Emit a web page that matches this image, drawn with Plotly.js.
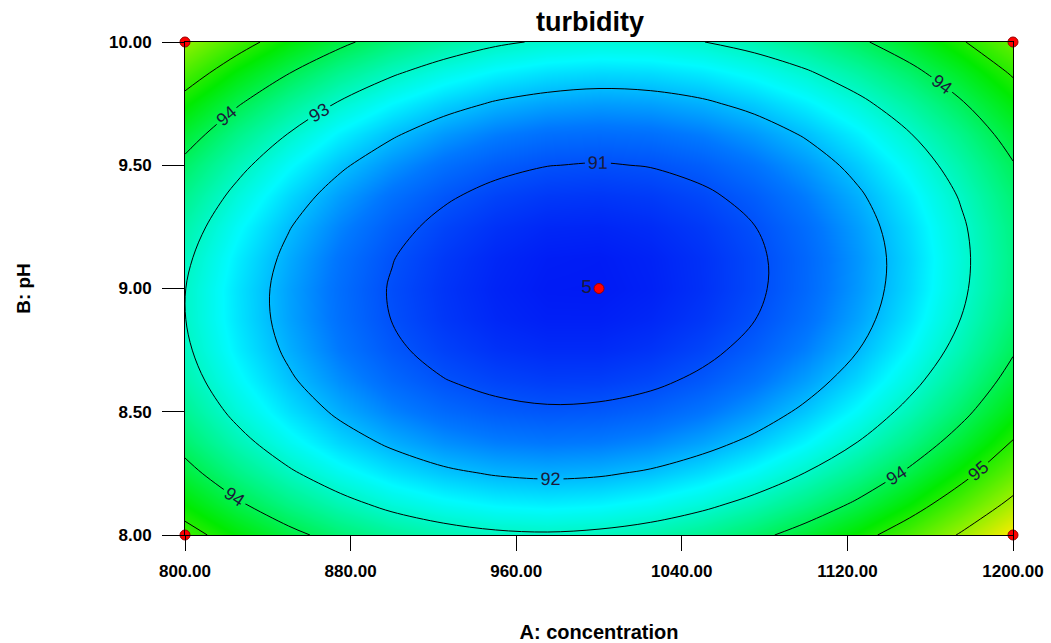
<!DOCTYPE html>
<html>
<head>
<meta charset="utf-8">
<script src="https://cdn.plot.ly/plotly-3.0.1.min.js"></script>
<style>html,body{margin:0;padding:0;background:#fff;}#chart{width:1051px;height:643px;}</style>
</head>
<body>
<div id="chart"></div>
<script>
// A: concentration grid (x)
const concentration = [800, 825, 850, 875, 900, 925, 950, 975, 1000, 1025, 1050, 1075, 1100, 1125, 1150, 1175, 1200];
// B: pH grid (y)
const pH = [8.000, 8.125, 8.250, 8.375, 8.500, 8.625, 8.750, 8.875, 9.000, 9.125, 9.250, 9.375, 9.500, 9.625, 9.750, 9.875, 10.000];
// turbidity estimated from the contour picture; rows follow pH, columns follow concentration
const turbidity = [
  [95.25, 94.67, 94.17, 93.76, 93.45, 93.23, 93.10, 93.06, 93.12, 93.26, 93.50, 93.83, 94.26, 94.77, 95.37, 96.07, 96.86],
  [94.69, 94.09, 93.59, 93.18, 92.85, 92.63, 92.49, 92.44, 92.49, 92.63, 92.86, 93.18, 93.60, 94.10, 94.70, 95.39, 96.17],
  [94.20, 93.60, 93.09, 92.67, 92.34, 92.10, 91.96, 91.90, 91.94, 92.07, 92.30, 92.61, 93.02, 93.52, 94.11, 94.79, 95.56],
  [93.80, 93.19, 92.67, 92.24, 91.91, 91.66, 91.51, 91.45, 91.48, 91.60, 91.82, 92.12, 92.52, 93.01, 93.60, 94.27, 95.04],
  [93.48, 92.86, 92.33, 91.90, 91.55, 91.30, 91.14, 91.07, 91.10, 91.21, 91.42, 91.72, 92.11, 92.59, 93.17, 93.83, 94.59],
  [93.24, 92.62, 92.08, 91.64, 91.28, 91.02, 90.86, 90.78, 90.79, 90.90, 91.10, 91.39, 91.78, 92.25, 92.82, 93.48, 94.23],
  [93.09, 92.45, 91.91, 91.45, 91.09, 90.83, 90.65, 90.57, 90.57, 90.67, 90.87, 91.15, 91.52, 91.99, 92.55, 93.20, 93.94],
  [93.01, 92.37, 91.81, 91.36, 90.99, 90.71, 90.53, 90.44, 90.44, 90.53, 90.71, 90.99, 91.35, 91.81, 92.36, 93.01, 93.74],
  [93.01, 92.36, 91.80, 91.34, 90.96, 90.68, 90.49, 90.39, 90.38, 90.46, 90.64, 90.91, 91.27, 91.72, 92.26, 92.90, 93.62],
  [93.10, 92.44, 91.88, 91.40, 91.02, 90.73, 90.53, 90.42, 90.40, 90.48, 90.65, 90.91, 91.26, 91.70, 92.24, 92.87, 93.59],
  [93.27, 92.60, 92.03, 91.55, 91.16, 90.86, 90.65, 90.53, 90.51, 90.58, 90.74, 90.99, 91.33, 91.77, 92.30, 92.92, 93.63],
  [93.52, 92.85, 92.26, 91.77, 91.37, 91.07, 90.85, 90.73, 90.70, 90.76, 90.91, 91.15, 91.49, 91.92, 92.44, 93.05, 93.75],
  [93.85, 93.17, 92.58, 92.08, 91.68, 91.36, 91.14, 91.01, 90.97, 91.02, 91.16, 91.40, 91.73, 92.15, 92.66, 93.27, 93.96],
  [94.27, 93.58, 92.98, 92.47, 92.06, 91.73, 91.50, 91.36, 91.32, 91.36, 91.50, 91.73, 92.05, 92.46, 92.97, 93.56, 94.25],
  [94.76, 94.06, 93.46, 92.94, 92.52, 92.19, 91.95, 91.81, 91.75, 91.79, 91.92, 92.14, 92.45, 92.85, 93.35, 93.94, 94.62],
  [95.34, 94.63, 94.02, 93.50, 93.07, 92.73, 92.48, 92.33, 92.26, 92.29, 92.41, 92.63, 92.93, 93.33, 93.82, 94.40, 95.07],
  [95.95, 95.28, 94.66, 94.13, 93.69, 93.35, 93.09, 92.93, 92.86, 92.88, 92.99, 93.20, 93.50, 93.89, 94.37, 94.94, 95.60]
];
// design points
const designA = [800, 800, 1200, 1200, 1000];
const designB = [8, 10, 8, 10, 9];
const designLabel = ['', '', '', '', '5'];

const colorscale = [
  [0.0, 'rgb(0,25,245)'],
  [1/6, 'rgb(0,120,255)'],
  [2/6, 'rgb(0,250,255)'],
  [3/6, 'rgb(0,245,130)'],
  [4/6, 'rgb(0,235,0)'],
  [5/6, 'rgb(125,240,0)'],
  [1.0, 'rgb(255,235,0)']
];

const FONT = '"Liberation Sans", Arial, sans-serif';

const contourTrace = {
  type: 'contour',
  x: concentration,
  y: pH,
  z: turbidity,
  zmin: 90.37,
  zmax: 96.87,
  zauto: false,
  colorscale: colorscale,
  showscale: false,
  contours: {
    start: 91, end: 96, size: 1,
    coloring: 'heatmap',
    showlabels: true,
    labelfont: {family: FONT, size: 18, color: '#1a1a3a'}
  },
  line: {color: '#000', width: 1, smoothing: 1},
  hoverinfo: 'skip'
};

const pointTrace = {
  type: 'scatter',
  mode: 'markers+text',
  x: designA,
  y: designB,
  text: designLabel,
  textposition: 'middle left',
  textfont: {family: FONT, size: 19, color: '#1a1a3a'},
  marker: {color: '#ff0000', size: 10, line: {color: '#900', width: 1}},
  cliponaxis: false,
  hoverinfo: 'skip'
};

const layout = {
  width: 1051,
  height: 643,
  margin: {l: 185, r: 38, t: 42, b: 108},
  paper_bgcolor: '#fff',
  plot_bgcolor: '#fff',
  showlegend: false,
  font: {family: FONT, color: '#000'},
  title: {
    text: 'turbidity',
    font: {family: FONT, size: 27, weight: 'bold', color: '#000'},
    x: 0.5614, xref: 'container', xanchor: 'center',
    y: 0.966, yref: 'container', yanchor: 'middle'
  },
  xaxis: {
    range: [800, 1200],
    tick0: 800, dtick: 80,
    tickformat: '.2f',
    ticks: 'outside', ticklen: 15, tickcolor: '#000', tickwidth: 1,
    ticklabelstandoff: 6,
    tickfont: {family: FONT, size: 17, weight: 'bold', color: '#000'},
    showline: true, linecolor: '#000', linewidth: 1, mirror: true,
    showgrid: false, zeroline: false,
    title: {text: 'A: concentration', standoff: 44,
            font: {family: FONT, size: 20, weight: 'bold', color: '#000'}}
  },
  yaxis: {
    range: [8, 10],
    tick0: 8, dtick: 0.5,
    tickformat: '.2f',
    ticks: 'outside', ticklen: 22, tickcolor: '#000', tickwidth: 1,
    ticklabelstandoff: 7,
    tickfont: {family: FONT, size: 17, weight: 'bold', color: '#000'},
    showline: true, linecolor: '#000', linewidth: 1, mirror: true,
    showgrid: false, zeroline: false,
    title: {text: 'B: pH', standoff: 73,
            font: {family: FONT, size: 19, weight: 'bold', color: '#000'}}
  }
};

Plotly.newPlot('chart', [contourTrace, pointTrace], layout, {displayModeBar: false, staticPlot: true});
</script>
</body>
</html>
